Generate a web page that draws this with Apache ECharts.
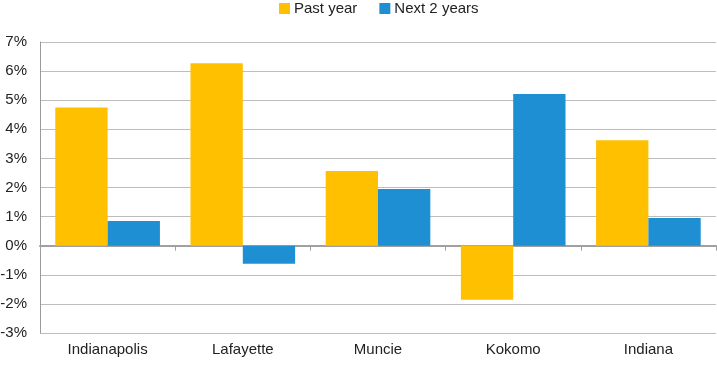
<!DOCTYPE html>
<html>
<head>
<meta charset="utf-8">
<script src="https://cdn.jsdelivr.net/npm/echarts@6/dist/echarts.min.js"></script>
<style>html,body{margin:0;padding:0;background:#fff;}#c{width:717px;height:391px;}</style>
</head>
<body>
<div id="c"></div>
<script>
const categories = ['Indianapolis', 'Lafayette', 'Muncie', 'Kokomo', 'Indiana'];
const pastYear = [4.75, 6.27, 2.57, -1.86, 3.62];
const next2Years = [0.85, -0.62, 1.95, 5.21, 0.95];
const seriesNames = ['Past year', 'Next 2 years'];

const chart = echarts.init(document.getElementById('c'));
const font = 'Liberation Sans, Arial, sans-serif';
chart.setOption({
  animation: false,
  textStyle: { fontFamily: font },
  legend: {
    left: 274, top: -4,
    itemWidth: 11, itemHeight: 11, itemGap: 22,
    icon: 'rect',
    textStyle: { fontSize: 15, color: '#222', fontFamily: font, padding: [0, 0, 0, -1] },
    data: seriesNames
  },
  grid: { left: 40, right: 1, top: 42, bottom: 58, outerBoundsMode: 'none', containLabel: false },
  xAxis: [
    {
      type: 'category', data: categories,
      axisLine: { onZero: true, lineStyle: { color: '#a0a0a0', width: 2 } },
      axisTick: { show: true, length: 5, lineStyle: { color: '#a0a0a0', width: 1 } },
      axisLabel: { show: false }
    },
    {
      type: 'category', data: categories, position: 'bottom',
      axisLine: { show: false, onZero: false },
      axisTick: { show: false },
      axisLabel: { fontSize: 15, color: '#222', margin: 9, fontFamily: font }
    }
  ],
  yAxis: {
    type: 'value', min: -3, max: 7, interval: 1,
    axisLine: { show: true, lineStyle: { color: '#9a9a9a', width: 1 } },
    axisTick: { show: false },
    splitLine: { lineStyle: { color: '#bdbdbd', width: 1 } },
    axisLabel: { fontSize: 15, color: '#222', margin: 13, fontFamily: font, formatter: v => v + '%' }
  },
  series: [
    { name: seriesNames[0], type: 'bar', xAxisIndex: 0, data: pastYear, itemStyle: { color: '#FFC000' }, barGap: '0%', barCategoryGap: '22.6%' },
    { name: seriesNames[1], type: 'bar', xAxisIndex: 0, data: next2Years, itemStyle: { color: '#1F8FD4' }, barGap: '0%', barCategoryGap: '22.6%' }
  ]
});
</script>
</body>
</html>
